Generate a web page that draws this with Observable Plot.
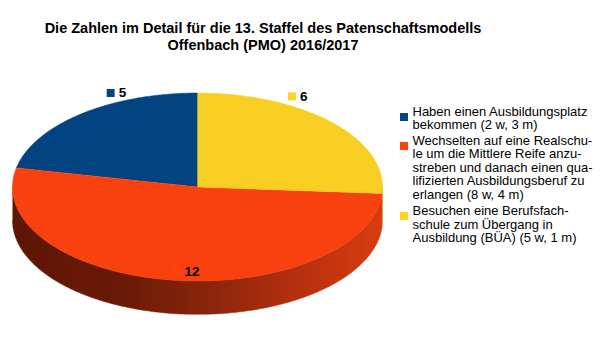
<!DOCTYPE html>
<html><head><meta charset="utf-8">
<script src="https://cdn.jsdelivr.net/npm/d3@7"></script>
<script src="https://cdn.jsdelivr.net/npm/@observablehq/plot@0.6"></script>
<style>
body{margin:0;background:#fff;}
#wrap{position:relative;width:605px;height:340px;overflow:hidden;font-family:"Liberation Sans",Arial,sans-serif;background:#fff;}
#chart{position:absolute;left:0;top:0;}
#title{position:absolute;left:0;top:19.8px;width:526px;text-align:center;font-weight:bold;font-size:14.5px;line-height:17px;color:#000;white-space:pre;}
.leg{position:absolute;left:412.5px;font-size:13px;line-height:13.5px;color:#000;white-space:pre;}
.sw{position:absolute;left:400px;width:8px;height:8px;}
</style></head><body>
<div id="wrap"><div id="chart"></div><div id="title"></div><div id="legend"></div></div>
<script>
// ---- data ----
const titleLines = ["Die Zahlen im Detail für die 13. Staffel des Patenschaftsmodells", "Offenbach (PMO) 2016/2017"];
const categories = [
  "Haben einen Ausbildungsplatz\nbekommen (2 w, 3 m)",
  "Wechselten auf eine Realschu-\nle um die Mittlere Reife anzu-\nstreben und danach einen qua-\nlifizierten Ausbildungsberuf zu\nerlangen (8 w, 4 m)",
  "Besuchen eine Berufsfach-\nschule zum Übergang in\nAusbildung (BÜA) (5 w, 1 m)"
];
const values = [5, 12, 6];
const valueLabels = ["5", "12", "6"];

// ---- styles ----
const topColors = ["#024382", "#f9410f", "#f8ce22"];
const swatchColors = ["#004586", "#ff420e", "#ffd320"];
const sideFills = ["#01305e", "url(#sideRed)", "#c9a016"];
const DEPTH = 0.355;          // wall height in y-units
const legendTops = [104.5, 133.5, 204];

document.getElementById("title").textContent = titleLines.join("\n");

// ---- geometry from values ----
const total = d3.sum(values);
let acc = 0;
const slices = values.map((v, i) => {
  const a0 = acc / total * 2 * Math.PI; acc += v;
  const a1 = acc / total * 2 * Math.PI;
  return {i, a0, a1};
});
const step = Math.PI / 360;
const tops = [], sides = [];
for (const s of slices) {
  const n = Math.max(2, Math.ceil((s.a1 - s.a0) / step));
  tops.push({id: s.i, x: 0, y: 0, fill: topColors[s.i]});
  for (let k = 0; k <= n; k++) {
    const a = s.a0 + (s.a1 - s.a0) * k / n;
    tops.push({id: s.i, x: -Math.sin(a), y: Math.cos(a), fill: topColors[s.i]});
  }
  const b0 = Math.max(s.a0, Math.PI / 2), b1 = Math.min(s.a1, 3 * Math.PI / 2);
  if (b1 > b0) {
    const m = Math.max(2, Math.ceil((b1 - b0) / step));
    const arc = d3.range(m + 1).map(k => b0 + (b1 - b0) * k / m);
    for (const a of arc) sides.push({id: s.i, x: -Math.sin(a), y: Math.cos(a), fill: sideFills[s.i]});
    for (const a of arc.slice().reverse()) sides.push({id: s.i, x: -Math.sin(a), y: Math.cos(a) - DEPTH, fill: sideFills[s.i]});
  }
}
// label anchors: mid-angle of each slice, lifted as in the 3D projection
const labelData = slices.map(s => {
  const mid = (s.a0 + s.a1) / 2;
  const X = -Math.sin(mid), Y = Math.cos(mid);
  return {x: 0.72 * X - 0.015, y: 1.091 * Y + 0.184 + 0.048 * X, label: valueLabels[s.i], sw: swatchColors[s.i]};
});

const plot = Plot.plot({
  width: 605, height: 340, margin: 0,
  x: {domain: [-1, 1], range: [12, 382], axis: null},
  y: {domain: [-1, 1], range: [280.5, 92.5], axis: null},
  color: {type: "identity"},
  marks: [
    Plot.line(sides, {x: "x", y: "y", z: "id", fill: "fill", stroke: "fill", strokeWidth: 0.5, curve: "linear"}),
    Plot.line(tops, {x: "x", y: "y", z: "id", fill: "fill", stroke: "fill", strokeWidth: 0.5, curve: "linear"}),
    Plot.dot(labelData, {x: "x", y: "y", symbol: "square", r: 4.5, fill: "sw", stroke: null}),
    Plot.text(labelData, {x: "x", y: "y", text: "label", dx: 8, textAnchor: "start", fontWeight: "bold", fontSize: 13.5, fill: "#000", fontFamily: "Liberation Sans, Arial, sans-serif"})
  ]
});
const xs = plot.scale("x");
const defs = d3.select(plot).insert("defs", ":first-child");
const g = defs.append("linearGradient").attr("id", "sideRed")
  .attr("gradientUnits", "userSpaceOnUse")
  .attr("x1", xs.apply(-1)).attr("x2", xs.apply(1)).attr("y1", 0).attr("y2", 0);
[[0, "#5e1604"], [0.3, "#6a1a06"], [0.5, "#84230a"], [0.75, "#b32f0d"], [1, "#d83c10"]]
  .forEach(([o, c]) => g.append("stop").attr("offset", o).attr("stop-color", c));
document.getElementById("chart").append(plot);

// ---- legend ----
const legend = document.getElementById("legend");
categories.forEach((c, i) => {
  const t = document.createElement("div");
  t.className = "leg"; t.style.top = legendTops[i] + "px"; t.textContent = c;
  legend.append(t);
  const s = document.createElement("div");
  s.className = "sw"; s.style.top = (legendTops[i] + 8) + "px"; s.style.background = swatchColors[i];
  legend.append(s);
});
</script>
</body></html>
